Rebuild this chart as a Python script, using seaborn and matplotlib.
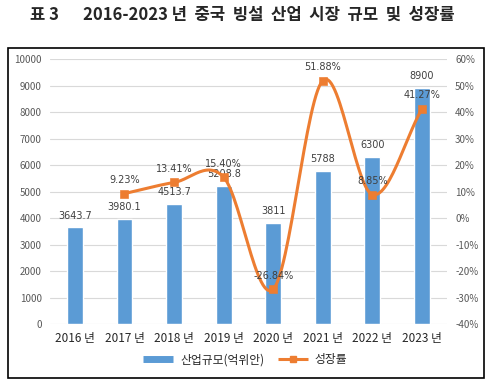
import matplotlib
matplotlib.use("Agg")
import matplotlib.pyplot as plt
import seaborn as sns
import numpy as np
import pandas as pd
from matplotlib.patches import Rectangle
from matplotlib.lines import Line2D

years = ["2016 년", "2017 년", "2018 년", "2019 년", "2020 년", "2021 년", "2022 년", "2023 년"]
scale = [3643.7, 3980.1, 4513.7, 5208.8, 3811, 5788, 6300, 8900]
scale_labels = ["3643.7", "3980.1", "4513.7", "5208.8", "3811", "5788", "6300", "8900"]
growth = [np.nan, 9.23, 13.41, 15.40, -26.84, 51.88, 8.85, 41.27]

sns.set_style("white")
plt.rcParams['font.family'] = ['Noto Sans CJK KR', 'DejaVu Sans']

blue = "#5B9BD5"
orange = "#ED7D31"

fig = plt.figure(figsize=(4.91, 3.86), dpi=100)
ax = fig.add_axes([0.102, 0.1606, 0.808, 0.6864])

df = pd.DataFrame({"year": years, "scale": scale})
sns.barplot(data=df, x="year", y="scale", color=blue, width=0.32, saturation=1, ax=ax, zorder=2)
ax.set_ylim(0, 10000)
ax.set_yticks(range(0, 10001, 1000))
ax.set_xlim(-0.5, 7.5)
ax.yaxis.grid(True, color="#D9D9D9", lw=0.8, zorder=0)
ax.set_axisbelow(True)
for s in ax.spines.values():
    s.set_visible(False)
ax.set_xlabel("")
ax.set_ylabel("")
ax.tick_params(axis="y", labelsize=7, colors="#595959", length=0, pad=6)
ax.tick_params(axis="x", labelsize=8.5, colors="#262626", length=0, pad=6)

ax2 = ax.twinx()
ax2.set_ylim(-40, 60)
ax2.set_yticks(range(-40, 61, 10))
ax2.set_yticklabels([f"{v}%" for v in range(-40, 61, 10)])
ax2.tick_params(axis="y", labelsize=7, colors="#595959", length=0, pad=6)
for s in ax2.spines.values():
    s.set_visible(False)

# smooth curve (Catmull-Rom) through the growth points
gx = np.arange(1, 8, dtype=float)
gy = np.array(growth[1:], dtype=float)
px = np.concatenate([[2 * gx[0] - gx[1]], gx, [2 * gx[-1] - gx[-2]]])
py = np.concatenate([[2 * gy[0] - gy[1]], gy, [2 * gy[-1] - gy[-2]]])
sx, sy = [], []
t = np.linspace(0, 1, 30)
for i in range(1, len(px) - 2):
    for arr, out in ((px, sx), (py, sy)):
        p0, p1, p2, p3 = arr[i - 1], arr[i], arr[i + 1], arr[i + 2]
        out.extend(0.5 * ((2 * p1) + (-p0 + p2) * t + (2 * p0 - 5 * p1 + 4 * p2 - p3) * t ** 2
                          + (-p0 + 3 * p1 - 3 * p2 + p3) * t ** 3))
ax2.plot(sx, sy, color=orange, lw=2.2, zorder=3)
sns.scatterplot(x=gx, y=gy, ax=ax2, color=orange, marker="s", s=30, edgecolor=orange, zorder=4, legend=False)

# data labels
for i, (v, lab) in enumerate(zip(scale, scale_labels)):
    ax.annotate(lab, (i, v), xytext=(0, 5), textcoords="offset points", ha="center", va="bottom",
                fontsize=7, color="#404040", family=['DejaVu Sans'])
for x, v in zip(gx, gy):
    ax2.annotate(f"{v:.2f}%", (x, v), xytext=(0, 6), textcoords="offset points", ha="center", va="bottom",
                 fontsize=7, color="#404040", family=['DejaVu Sans'], zorder=5)

# legend
handles = [Line2D([], [], color=blue, lw=5, solid_capstyle="butt"),
           Line2D([], [], color=orange, lw=2.2, marker="s", markersize=4, solid_capstyle="butt")]
fig.legend(handles, ["산업규모(억위안)", "성장률"], loc="center", bbox_to_anchor=(0.5, 0.068),
           ncol=2, frameon=False, fontsize=8.5, handlelength=2.5, columnspacing=1.2, handletextpad=0.6)

# outer chart border
fig.patches.append(Rectangle((0.0163, 0.0207), 0.969, 0.855, transform=fig.transFigure,
                             fill=False, edgecolor="black", lw=1.2))

fig.text(0.061, 0.961, "표 3", ha="left", va="center", fontsize=12, fontweight="bold")
fig.text(0.169, 0.961, "2016-2023 년  중국  빙설  산업  시장  규모  및  성장률",
         ha="left", va="center", fontsize=12, fontweight="bold")

fig.savefig("out.png", dpi=100)
